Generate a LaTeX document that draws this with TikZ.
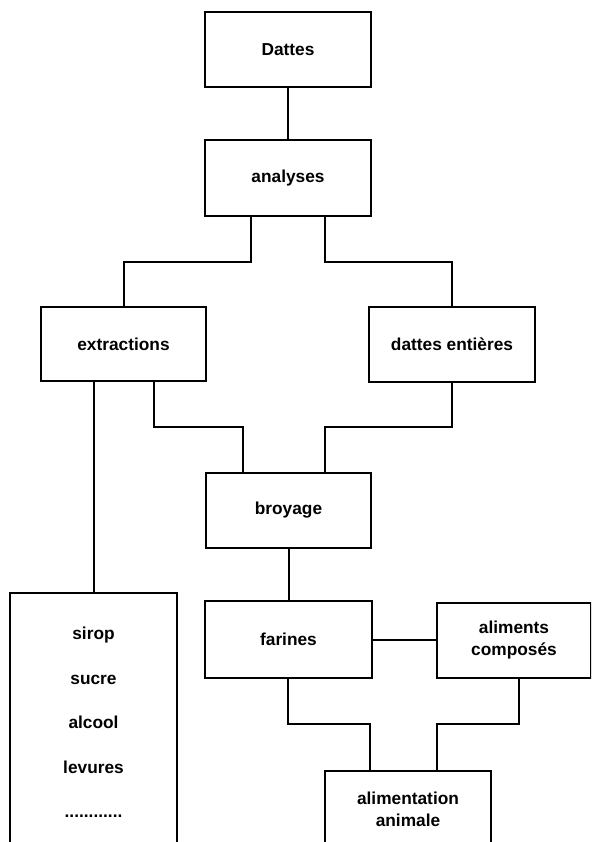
\documentclass[tikz,border=0pt]{standalone}
\usepackage{fontspec}
\setmainfont{Liberation Sans}
\usepackage{tikz}

\begin{document}
\begin{tikzpicture}[x=1pt, y=-1pt]
\tikzset{
	etape/.style={draw,
		rectangle,
		line width=2.2pt,
		minimum width=166pt,
		minimum height=75pt,
		inner sep=0pt,
		align=center,
		font=\fontsize{17.3}{22}\selectfont\bfseries
	},
	lien/.style={line width=2pt}
}

\clip (0,0) rectangle (591,842); % the bottom boxes run off the page

\node[etape] (Dattes) at (288,49.5) {Dattes};
\node[etape, minimum height=76pt] (analyses) at (288,178) {analyses};
\node[etape, minimum width=165pt, minimum height=74pt] (extractions) at (123.5,344) {extractions};
\node[etape] (entieres) at (452,344.5) {dattes entières};
\node[etape, minimum width=165pt] (broyage) at (288.5,510.5) {broyage};
\node[etape, minimum width=167pt, minimum height=77pt] (farines) at (288.5,639.5) {farines};
\node[etape, minimum width=154pt] (composes) at (514,640.5) {aliments\\composés};
\node[etape, minimum height=76pt] (animale) at (408,809) {alimentation\\animale};
\node[etape, minimum width=167pt, minimum height=259pt,
	font=\fontsize{17.3}{44.5}\selectfont\bfseries] (produits) at (93.5,722.5)
	{sirop\\sucre\\alcool\\levures\\............};

% bend points
\coordinate (gA) at (251,262);
\coordinate (dA) at (325,262);
\coordinate (gB) at (154,427);
\coordinate (gB2) at (243,427);
\coordinate (dB) at (452,427);
\coordinate (dB2) at (325,427);
\coordinate (gC) at (288,724);
\coordinate (gC2) at (370,724);
\coordinate (dC) at (519,724);
\coordinate (dC2) at (437,724);
\coordinate (sP) at (93.5,0);

\draw[lien] (Dattes.south) -- (analyses.north);
\draw[lien] (analyses.south -| gA) -- (gA) -| (extractions.north);
\draw[lien] (analyses.south -| dA) -- (dA) -| (entieres.north);
\draw[lien] (extractions.south -| gB) -- (gB) -- (gB2) -- (broyage.north -| gB2);
\draw[lien] (entieres.south -| dB) -- (dB) -- (dB2) -- (broyage.north -| dB2);
\draw[lien] (extractions.south -| sP) -- (produits.north);
\draw[lien] (broyage.south) -- (farines.north);
\draw[lien] (farines.east) -- (composes.west |- farines.east);
\draw[lien] (farines.south -| gC) -- (gC) -- (gC2) -- (animale.north -| gC2);
\draw[lien] (composes.south -| dC) -- (dC) -- (dC2) -- (animale.north -| dC2);
\end{tikzpicture}
\end{document}
